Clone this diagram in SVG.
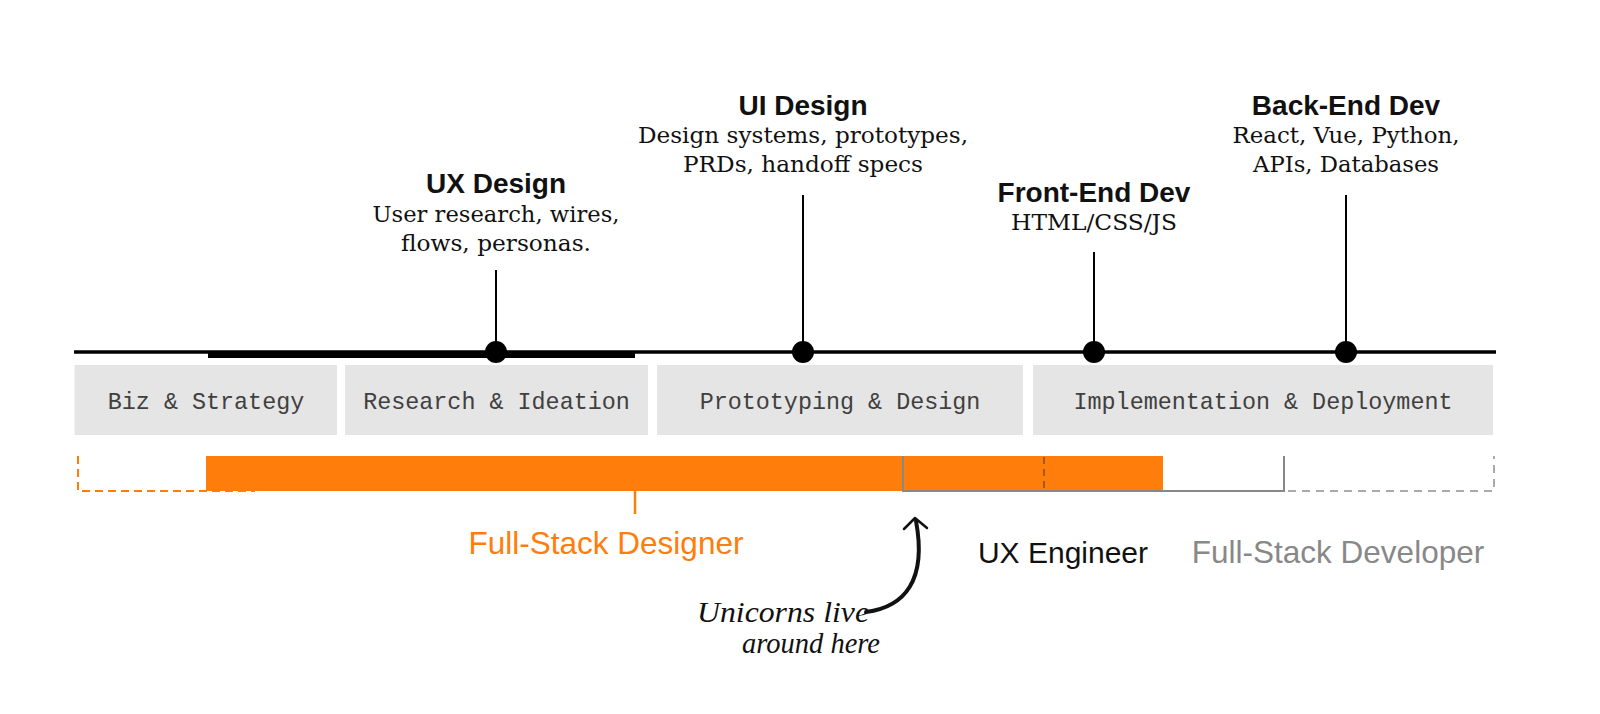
<svg xmlns="http://www.w3.org/2000/svg" width="1600" height="714" viewBox="0 0 1600 714">
  <style>
    .title { font-family: "Liberation Sans", Arial, sans-serif; font-weight: bold; font-size: 28px; fill: #111; text-anchor: middle; }
    .sub { font-family: "DejaVu Serif", "Liberation Serif", serif; font-size: 22.5px; fill: #111; text-anchor: middle; }
    .stage rect { fill: #e5e5e5; }
    .stage text { font-family: "Liberation Mono", "DejaVu Sans Mono", monospace; font-size: 23.4px; fill: #404040; text-anchor: middle; }
    .stem { stroke: #000; stroke-width: 2; }
    .dot { fill: #000; }
    .role { font-family: "Liberation Sans", Arial, sans-serif; text-anchor: middle; }
    .hand { font-family: "Liberation Serif", serif; font-style: italic; font-size: 29px; fill: #111; }
  </style>

  <!-- axis -->
  <g id="axis">
    <line x1="74" y1="352" x2="1496" y2="352" stroke="#000" stroke-width="3.5"/>
    <rect x="208" y="351" width="427" height="7" fill="#000"/>
  </g>

  <!-- connectors (stems from labels to axis) -->
  <g id="connectors">
    <line class="stem" x1="496" y1="270" x2="496" y2="351"/>
    <line class="stem" x1="803" y1="195" x2="803" y2="351"/>
    <line class="stem" x1="1094" y1="252" x2="1094" y2="351"/>
    <line class="stem" x1="1346" y1="195" x2="1346" y2="351"/>
    <circle class="dot" cx="496" cy="352" r="11"/>
    <circle class="dot" cx="803" cy="352" r="11"/>
    <circle class="dot" cx="1094" cy="352" r="11"/>
    <circle class="dot" cx="1346" cy="352" r="11"/>
    <line x1="635" y1="491" x2="635" y2="514" stroke="#ff7d0a" stroke-width="2.5"/>
  </g>

  <!-- skill labels -->
  <g id="ux-design">
    <text class="title" x="496" y="193">UX Design</text>
    <text class="sub" x="496" y="222" textLength="247" lengthAdjust="spacingAndGlyphs">User research, wires,</text>
    <text class="sub" x="496" y="251" textLength="190" lengthAdjust="spacingAndGlyphs">flows, personas.</text>
  </g>
  <g id="ui-design">
    <text class="title" x="803" y="115">UI Design</text>
    <text class="sub" x="803" y="143" textLength="330" lengthAdjust="spacingAndGlyphs">Design systems, prototypes,</text>
    <text class="sub" x="803" y="172" textLength="240" lengthAdjust="spacingAndGlyphs">PRDs, handoff specs</text>
  </g>
  <g id="front-end-dev">
    <text class="title" x="1094" y="202">Front-End Dev</text>
    <text class="sub" x="1094" y="230" textLength="166" lengthAdjust="spacingAndGlyphs">HTML/CSS/JS</text>
  </g>
  <g id="back-end-dev">
    <text class="title" x="1346" y="115">Back-End Dev</text>
    <text class="sub" x="1346" y="143" textLength="227" lengthAdjust="spacingAndGlyphs">React, Vue, Python,</text>
    <text class="sub" x="1346" y="172" textLength="186" lengthAdjust="spacingAndGlyphs">APIs, Databases</text>
  </g>

  <!-- stages -->
  <g id="stage-biz" class="stage">
    <rect x="74.5" y="365" width="262.5" height="70"/>
    <text x="206" y="409">Biz &amp; Strategy</text>
  </g>
  <g id="stage-research" class="stage">
    <rect x="345" y="365" width="303" height="70"/>
    <text x="496.5" y="409">Research &amp; Ideation</text>
  </g>
  <g id="stage-prototyping" class="stage">
    <rect x="657" y="365" width="366" height="70"/>
    <text x="840" y="409">Prototyping &amp; Design</text>
  </g>
  <g id="stage-implementation" class="stage">
    <rect x="1033" y="365" width="460" height="70"/>
    <text x="1263" y="409">Implementation &amp; Deployment</text>
  </g>

  <!-- roles -->
  <g id="full-stack-designer">
    <path d="M78,456 V491 H255" fill="none" stroke="#ff7d0a" stroke-width="2" stroke-dasharray="8 5"/>
    <rect x="206" y="456" width="957" height="35" fill="#ff7d0a"/>
    <text class="role" x="606" y="554" font-size="31.5" font-weight="500" fill="#ff7d0a">Full-Stack Designer</text>
  </g>
  <g id="ux-engineer">
    <path d="M903,456 V491 H1284 V456" fill="none" stroke="#888" stroke-width="2"/>
    <line x1="1044" y1="457" x2="1044" y2="490" stroke="#a8571a" stroke-width="2" stroke-dasharray="7 5"/>
    <text class="role" x="1063" y="563" font-size="30" fill="#111">UX Engineer</text>
  </g>
  <g id="full-stack-developer">
    <path d="M1288,491 H1494 V456" fill="none" stroke="#aaa" stroke-width="2" stroke-dasharray="8 6"/>
    <text class="role" x="1338" y="563" font-size="31.5" fill="#888">Full-Stack Developer</text>
  </g>

  <!-- unicorn note -->
  <g id="unicorn-note">
    <path d="M866,612 C905,607 927,580 916,521" fill="none" stroke="#111" stroke-width="4" stroke-linecap="round"/>
    <path d="M904,529 L915,518 L927,528" fill="none" stroke="#111" stroke-width="2.5" stroke-linecap="round" stroke-linejoin="round"/>
    <text class="hand" x="697" y="622" textLength="172" lengthAdjust="spacingAndGlyphs">Unicorns live</text>
    <text class="hand" x="742" y="653" textLength="138" lengthAdjust="spacingAndGlyphs">around here</text>
  </g>
</svg>
